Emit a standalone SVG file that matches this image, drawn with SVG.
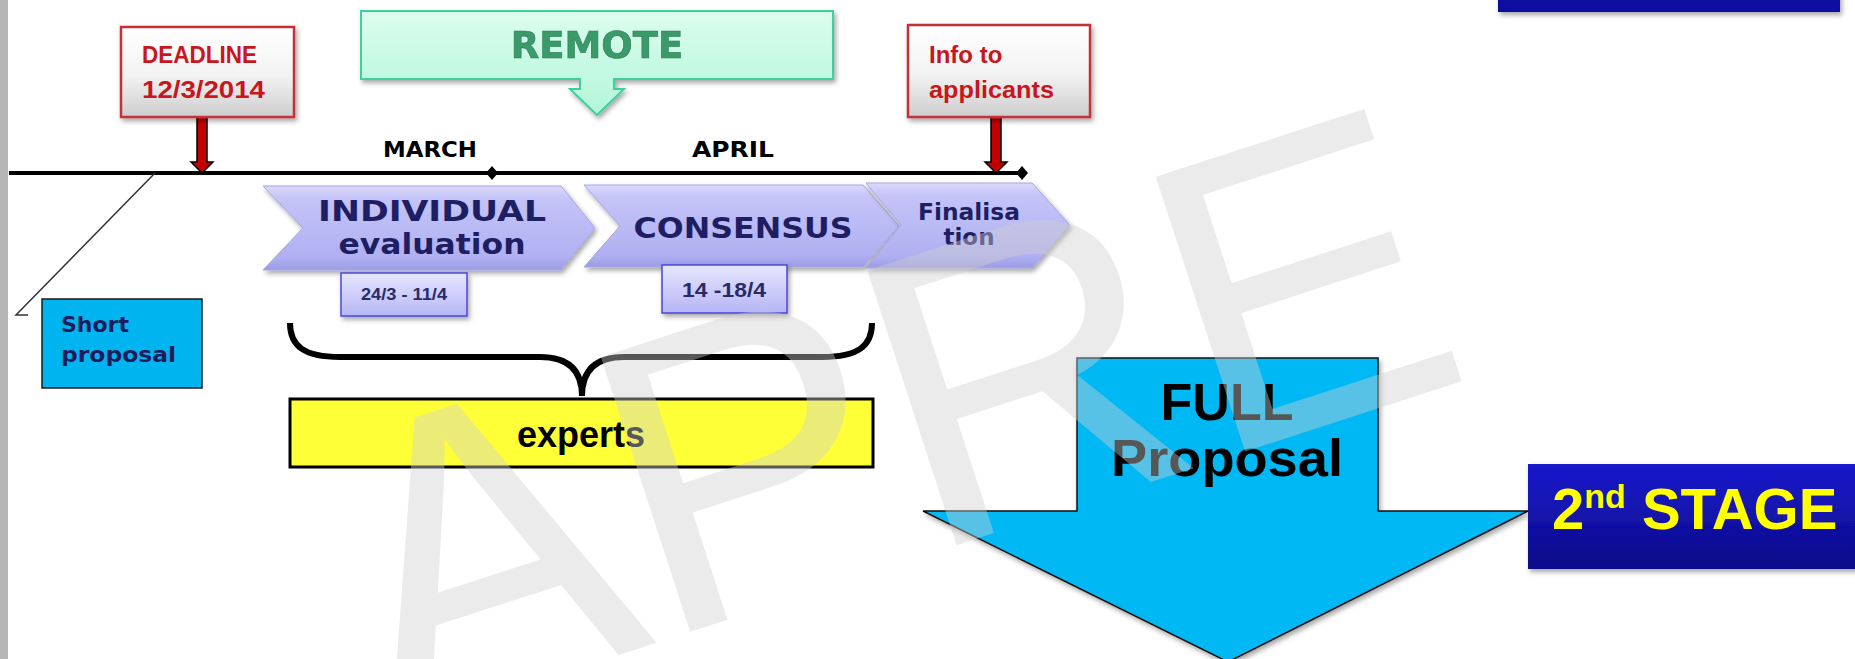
<svg xmlns="http://www.w3.org/2000/svg" width="1855" height="659" viewBox="0 0 1855 659">
<defs>
  <linearGradient id="gRed" x1="0" y1="0" x2="0" y2="1"><stop offset="0" stop-color="#ffffff"/><stop offset="0.55" stop-color="#f2f2f2"/><stop offset="1" stop-color="#cdcdcd"/></linearGradient>
  <linearGradient id="gMint" x1="0" y1="0" x2="0" y2="1"><stop offset="0" stop-color="#dcfdef"/><stop offset="1" stop-color="#b2f6d9"/></linearGradient>
  <linearGradient id="gChev" x1="0" y1="0" x2="0" y2="1"><stop offset="0" stop-color="#dadafd"/><stop offset="0.15" stop-color="#c4c4f8"/><stop offset="0.85" stop-color="#b0b0f2"/><stop offset="1" stop-color="#9c9ce6"/></linearGradient>
  <linearGradient id="gDate" x1="0" y1="0" x2="0" y2="1"><stop offset="0" stop-color="#e6e6ff"/><stop offset="1" stop-color="#b6b6f6"/></linearGradient>
  <linearGradient id="gNavy" x1="0" y1="0" x2="0" y2="1"><stop offset="0" stop-color="#1a1acc"/><stop offset="1" stop-color="#0b0b88"/></linearGradient>
  <filter id="sh" x="-10%" y="-10%" width="130%" height="140%"><feDropShadow dx="2" dy="3" stdDeviation="2.5" flood-color="#000" flood-opacity="0.35"/></filter>
</defs>
<style>
  .cal{font-family:"Liberation Sans",Arial,sans-serif;font-weight:bold;fill:#c8161c}
  .ver{font-family:"DejaVu Sans",Verdana,sans-serif;font-weight:bold}
  .chevtxt{fill:#1e1e62}
  .datetxt{font-family:"Liberation Sans",Arial,sans-serif;font-weight:bold;fill:#2a2a6a;text-anchor:middle}
  .redbox{fill:url(#gRed);stroke:#c43038;stroke-width:2.5}
  .chev{fill:url(#gChev);stroke:#a6a6e4;stroke-width:1}
  .date{fill:url(#gDate);stroke:#4848d8;stroke-width:1.5}
  .redarrow{fill:#c40000;stroke:#000;stroke-width:1.5}
  .month{font-family:"DejaVu Sans",Verdana,sans-serif;font-weight:bold;font-size:22px;fill:#000;text-anchor:middle}
</style>
<rect x="0" y="0" width="1855" height="659" fill="#ffffff"/>
<rect x="0" y="0" width="8" height="659" fill="#b6b6b6"/>

<g id="connectors">
  <line x1="9" y1="173" x2="1022" y2="173" stroke="#000" stroke-width="4"/>
  <polygon points="492,166 498,173 492,180 486,173" fill="#000"/>
  <polygon points="1022,166 1028,173 1022,180 1016,173" fill="#000"/>
  <polygon class="redarrow" points="197,117 207,117 207,162 213,162 202,173 191,162 197,162"/>
  <polygon class="redarrow" points="991,117 1001,117 1001,162 1007,162 996,173 985,162 991,162"/>
  <polyline points="155,173 16,315 28,315" fill="none" stroke="#333" stroke-width="1.5"/>
  <path d="M290,323 C290,346 304,357 340,357 L540,357 C568,357 582,370 582,396 C582,370 596,357 624,357 L822,357 C858,357 872,346 872,323" fill="none" stroke="#000" stroke-width="6"/>
</g>

<g id="deadline">
  <rect class="redbox" x="121" y="27" width="173" height="90" filter="url(#sh)"/>
  <text class="cal" x="142" y="63" font-size="24" textLength="115" lengthAdjust="spacingAndGlyphs">DEADLINE</text>
  <text class="cal" x="142" y="98" font-size="24" textLength="123" lengthAdjust="spacingAndGlyphs">12/3/2014</text>
</g>

<g id="info">
  <rect class="redbox" x="908" y="25" width="182" height="92" filter="url(#sh)"/>
  <text class="cal" x="929" y="63" font-size="24">Info to</text>
  <text class="cal" x="929" y="98" font-size="24" textLength="125" lengthAdjust="spacingAndGlyphs">applicants</text>
</g>

<g id="remote" filter="url(#sh)">
  <path d="M361,11 H833 V79 H614 V89 H624 L597,115 L570,89 H580 V79 H361 Z" fill="url(#gMint)" stroke="#3fd09e" stroke-width="2"/>
  <text class="ver" x="597" y="58" font-size="37" fill="#3a9a6a" text-anchor="middle" stroke="#2f7d55" stroke-width="0.6">REMOTE</text>
</g>

<g id="months">
  <text class="month" x="430" y="157" textLength="94" lengthAdjust="spacingAndGlyphs">MARCH</text>
  <text class="month" x="733" y="157" textLength="82" lengthAdjust="spacingAndGlyphs">APRIL</text>
</g>

<g id="individual">
  <polygon class="chev" points="263,186 561,186 595,228 561,270 263,270 303,228" filter="url(#sh)"/>
  <text class="ver chevtxt" x="432" y="221" font-size="29" text-anchor="middle" textLength="228" lengthAdjust="spacingAndGlyphs">INDIVIDUAL</text>
  <text class="ver chevtxt" x="432" y="254" font-size="29" text-anchor="middle" textLength="187" lengthAdjust="spacingAndGlyphs">evaluation</text>
</g>

<g id="date1">
  <rect class="date" x="341" y="273" width="126" height="43" filter="url(#sh)"/>
  <text class="datetxt" x="404" y="300" font-size="17" textLength="86" lengthAdjust="spacingAndGlyphs">24/3 - 11/4</text>
</g>

<g id="consensus">
  <polygon class="chev" points="584,185 863,185 899,226 863,267 584,267 620,226" filter="url(#sh)"/>
  <text class="ver chevtxt" x="743" y="238" font-size="29" text-anchor="middle" textLength="219" lengthAdjust="spacingAndGlyphs">CONSENSUS</text>
</g>

<g id="date2">
  <rect class="date" x="662" y="265" width="125" height="48" filter="url(#sh)"/>
  <text class="datetxt" x="724" y="297" font-size="21" textLength="84" lengthAdjust="spacingAndGlyphs">14 -18/4</text>
</g>

<g id="finalisation">
  <polygon class="chev" points="866,183 1032,183 1070,225 1032,268 866,268 901,225" filter="url(#sh)"/>
  <text class="ver chevtxt" x="969" y="220" font-size="23" text-anchor="middle" textLength="102" lengthAdjust="spacingAndGlyphs">Finalisa</text>
  <text class="ver chevtxt" x="969" y="245" font-size="23" text-anchor="middle">tion</text>
</g>

<g id="short">
  <rect x="42" y="299" width="160" height="89" fill="#00b4f0" stroke="#1a1a1a" stroke-width="1.5"/>
  <text class="ver" x="61" y="332" font-size="22" fill="#1c1c5c">Short</text>
  <text class="ver" x="61" y="362" font-size="22" fill="#1c1c5c" textLength="115" lengthAdjust="spacingAndGlyphs">proposal</text>
</g>

<g id="experts">
  <rect x="290" y="399" width="583" height="68" fill="#ffff38" stroke="#000" stroke-width="3"/>
  <text x="581" y="447" font-family="Liberation Sans, Arial, sans-serif" font-weight="bold" font-size="36" text-anchor="middle" fill="#000">experts</text>
</g>

<g id="full">
  <polygon points="1077,358 1378,358 1378,511 1528,511 1228,662 923,511 1077,511" fill="#00b8f4" stroke="#111" stroke-width="1.5" filter="url(#sh)"/>
  <text x="1227" y="420" font-family="Liberation Sans, Arial, sans-serif" font-weight="bold" font-size="52" text-anchor="middle" fill="#000">FULL</text>
  <text x="1227" y="476" font-family="Liberation Sans, Arial, sans-serif" font-weight="bold" font-size="52" text-anchor="middle" fill="#000" textLength="232" lengthAdjust="spacingAndGlyphs">Proposal</text>
</g>

<g id="stage2">
  <rect x="1528" y="464" width="340" height="105" fill="url(#gNavy)" filter="url(#sh)"/>
  <text x="1552" y="529" font-family="Liberation Sans, Arial, sans-serif" font-weight="bold" font-size="58" fill="#ffff00">2<tspan font-size="34" dy="-21">nd</tspan><tspan dy="21"> STAGE</tspan></text>
</g>

<g id="topbox">
  <rect x="1498" y="-10" width="342" height="22" fill="#1010a0" filter="url(#sh)"/>
</g>

<g id="watermark">
  <text x="391" y="729" font-family="Liberation Sans, Arial, sans-serif" font-size="420" fill="#cfcfcf" fill-opacity="0.42" transform="rotate(-18 391 729)">APRE</text>
</g>
</svg>
